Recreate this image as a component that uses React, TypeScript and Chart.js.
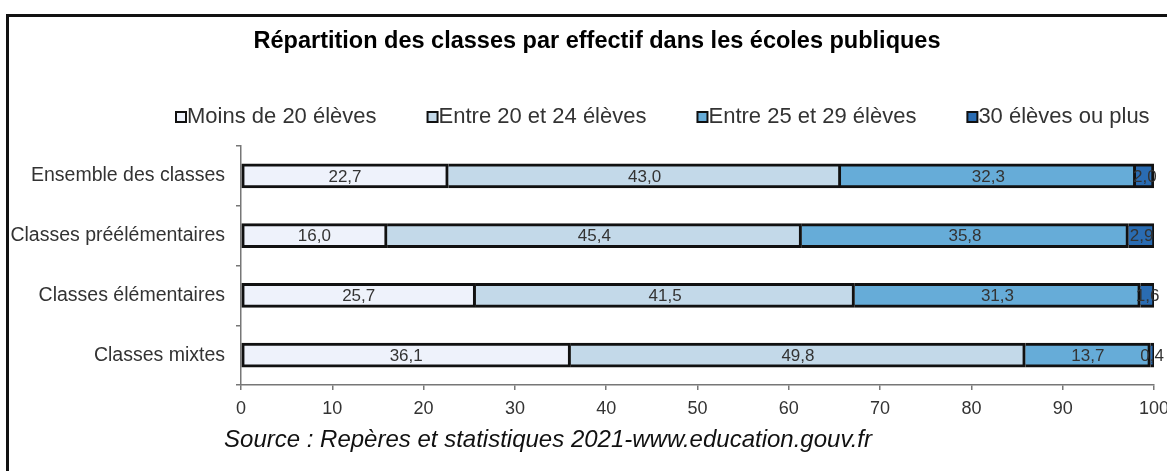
import { useEffect, useRef } from "react";
import { Chart, registerables } from "chart.js";

Chart.register(...registerables);

const categories = [
  "Ensemble des classes",
  "Classes préélémentaires",
  "Classes élémentaires",
  "Classes mixtes",
];
const seriesLabels = [
  "Moins de 20 élèves",
  "Entre 20 et 24 élèves",
  "Entre 25 et 29 élèves",
  "30 élèves ou plus",
];
const moins20 = [22.7, 16.0, 25.7, 36.1];
const entre20et24 = [43.0, 45.4, 41.5, 49.8];
const entre25et29 = [32.3, 35.8, 31.3, 13.7];
const plus30 = [2.0, 2.9, 1.6, 0.4];
const xTickValues = [0, 10, 20, 30, 40, 50, 60, 70, 80, 90, 100];
const titleText = "Répartition des classes par effectif dans les écoles publiques";
const sourceText = "Source : Repères et statistiques 2021-www.education.gouv.fr";

const seriesValues = [moins20, entre20et24, entre25et29, plus30];
const seriesColors = ["#EEF2FB", "#C3D9E9", "#66ACD8", "#2A6CB2"];

const FONT = '"Liberation Sans", Arial, Helvetica, sans-serif';
const fmt = (v: number) => v.toFixed(1).replace(".", ",");

const overlayPlugin = {
  id: "overlay",
  afterDatasetsDraw(chart: any) {
    const ctx = chart.ctx;
    ctx.save();
    ctx.font = `17px ${FONT}`;
    ctx.fillStyle = "#333";
    ctx.textAlign = "center";
    ctx.textBaseline = "middle";
    chart.data.datasets.forEach((ds: any, i: number) => {
      const meta = chart.getDatasetMeta(i);
      meta.data.forEach((bar: any, j: number) => {
        const p = bar.getProps(["x", "y", "base"], true);
        ctx.fillText(fmt(ds.data[j]), (p.x + p.base) / 2, p.y + 1);
      });
    });
    ctx.restore();
  },
  afterDraw(chart: any) {
    const ctx = chart.ctx;
    ctx.save();
    // title
    ctx.font = `bold 23.5px ${FONT}`;
    ctx.fillStyle = "#000";
    ctx.textAlign = "center";
    ctx.textBaseline = "middle";
    ctx.fillText(titleText, 597, 42);
    // legend
    ctx.font = `22px ${FONT}`;
    ctx.textAlign = "left";
    let x = 176;
    const y = 117;
    chart.data.datasets.forEach((ds: any) => {
      ctx.fillStyle = ds.backgroundColor;
      ctx.fillRect(x, y - 5, 10, 10);
      ctx.lineWidth = 2;
      ctx.strokeStyle = "#111";
      ctx.strokeRect(x, y - 5, 10, 10);
      ctx.fillStyle = "#333";
      ctx.fillText(ds.label, x + 11, y);
      x += 11 + ctx.measureText(ds.label).width + 51;
    });
    // source
    ctx.font = `italic 24px ${FONT}`;
    ctx.fillStyle = "#111";
    ctx.textAlign = "center";
    ctx.fillText(sourceText, 548, 440);
    ctx.restore();
  },
};

export default function App() {
  const ref = useRef<HTMLCanvasElement | null>(null);

  useEffect(() => {
    if (!ref.current) return;
    const chart = new Chart(ref.current, {
      type: "bar",
      data: {
        labels: categories,
        datasets: seriesLabels.map((label, i) => ({
          label,
          data: seriesValues[i],
          backgroundColor: seriesColors[i],
          borderColor: "#111",
          borderWidth: 3,
          borderSkipped: i === 0 ? false : "start",
          barThickness: 24,
        })),
      },
      options: {
        indexAxis: "y",
        responsive: false,
        animation: false,
        layout: { padding: { left: 0, right: 13, top: 146, bottom: 51 } },
        plugins: {
          legend: { display: false },
          tooltip: { enabled: false },
          title: { display: false },
        },
        scales: {
          x: {
            type: "linear",
            stacked: true,
            min: 0,
            max: 100,
            afterBuildTicks: (scale: any) => {
              scale.ticks = xTickValues.map((v) => ({ value: v }));
            },
            afterFit: (scale: any) => {
              scale.height = 35;
              scale.paddingRight = 0;
              scale.paddingLeft = 0;
            },
            grid: {
              display: true,
              drawOnChartArea: false,
              drawTicks: true,
              tickLength: 5,
              color: "#777",
              lineWidth: 1.5,
            },
            border: { display: true, color: "#777", width: 1.5 },
            ticks: {
              color: "#333",
              font: { family: FONT, size: 18 },
              padding: 8,
              maxRotation: 0,
              autoSkip: false,
              callback: (v: any) => String(v),
            },
          },
          y: {
            type: "category",
            stacked: true,
            afterFit: (scale: any) => {
              scale.width = 241;
            },
            grid: {
              display: true,
              drawOnChartArea: false,
              drawTicks: true,
              tickLength: 5,
              offset: true,
              color: "#777",
              lineWidth: 1.5,
            },
            border: { display: true, color: "#777", width: 1.5 },
            ticks: {
              color: "#333",
              font: { family: FONT, size: 19.5 },
              padding: 11,
            },
          },
        },
      },
      plugins: [overlayPlugin],
    } as any);
    return () => chart.destroy();
  }, []);

  return (
    <div
      style={{
        position: "fixed",
        left: 0,
        top: 0,
        width: 1167,
        height: 471,
        background: "#fff",
        overflow: "hidden",
      }}
    >
      <div
        style={{
          position: "absolute",
          left: 6,
          top: 14,
          width: 1200,
          height: 500,
          borderLeft: "3px solid #111",
          borderTop: "3px solid #111",
          boxSizing: "border-box",
        }}
      />
      <canvas
        ref={ref}
        width={1167}
        height={471}
        style={{ position: "absolute", left: 0, top: 0, width: 1167, height: 471 }}
      />
    </div>
  );
}
